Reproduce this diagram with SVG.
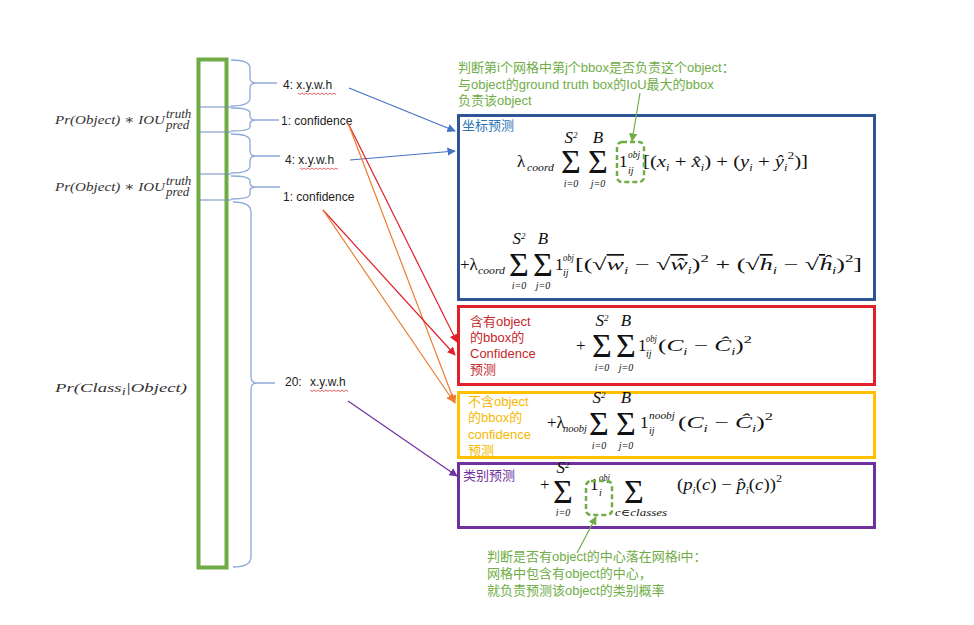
<svg xmlns="http://www.w3.org/2000/svg" width="974" height="625" viewBox="0 0 974 625">
<style>
.col{fill:none;stroke:#6fac46;stroke-width:4}
.div{stroke:#6d8cc0;stroke-width:1}
.br{fill:none;stroke:#8eaad8;stroke-width:1.3}
.lbl{font-family:"Liberation Sans","Noto Sans CJK SC",sans-serif;font-size:12px;fill:#222}
.sq{fill:none;stroke:#e03c3c;stroke-width:0.8}
.m{font-family:"Liberation Serif","DejaVu Serif",serif;font-size:17px;fill:#111}
.lm{font-family:"Liberation Serif","DejaVu Serif",serif;font-size:13px;fill:#333;font-style:italic}
.i{font-style:italic}
.sc{font-size:10px;font-style:italic}
.sig{font-size:34px}
.cn{font-family:"Liberation Sans","Noto Sans CJK SC",sans-serif;font-size:13px}
.dash{fill:none;stroke:#70ad47;stroke-width:2.5;stroke-dasharray:5 3}
.box{fill:none;stroke-width:3}
.cx{fill:none;stroke-width:1.2}
</style>
<defs>
<marker id="ab" viewBox="0 0 10 10" refX="9" refY="5" markerWidth="7" markerHeight="7" orient="auto"><path d="M0 0L10 5L0 10z" fill="#4472c4"/></marker>
<marker id="ar" viewBox="0 0 10 10" refX="9" refY="5" markerWidth="7" markerHeight="7" orient="auto"><path d="M0 0L10 5L0 10z" fill="#e0202a"/></marker>
<marker id="ao" viewBox="0 0 10 10" refX="9" refY="5" markerWidth="7" markerHeight="7" orient="auto"><path d="M0 0L10 5L0 10z" fill="#ed7d31"/></marker>
<marker id="ap" viewBox="0 0 10 10" refX="9" refY="5" markerWidth="7" markerHeight="7" orient="auto"><path d="M0 0L10 5L0 10z" fill="#7030a0"/></marker>
<marker id="ag" viewBox="0 0 10 10" refX="9" refY="5" markerWidth="7" markerHeight="7" orient="auto"><path d="M0 0L10 5L0 10z" fill="#70ad47"/></marker>
</defs>
<rect width="974" height="625" fill="#fff"/>

<g id="column">
<rect class="col" x="198.5" y="59.5" width="28" height="508"/>
<line class="div" x1="199" y1="107" x2="231" y2="107"/>
<line class="div" x1="199" y1="132" x2="231" y2="132"/>
<line class="div" x1="199" y1="174" x2="231" y2="174"/>
<line class="div" x1="199" y1="200" x2="231" y2="200"/>
</g>

<g id="braces">
<path class="br" d="M231 60 Q250 60 250 68 L250 78 Q250 83 256 83 Q250 83 250 88 L250 98 Q250 106 231 106 M256 83 H277"/>
<path class="br" d="M231 108 Q250 108 250 113 L250 116 Q250 120 256 120 Q250 120 250 124 L250 127 Q250 131 231 131 M256 120 H279"/>
<path class="br" d="M231 134 Q250 134 250 141 L250 151 Q250 156 256 156 Q250 156 250 161 L250 166 Q250 173 231 173 M256 156 H280"/>
<path class="br" d="M231 176 Q250 176 250 181 L250 183 Q250 187 256 187 Q250 187 250 191 L250 194 Q250 199 231 199 M256 187 H280"/>
<path class="br" d="M233 202 Q251 202 251 212 L251 377 Q251 383 257 383 Q251 383 251 389 L251 557 Q251 567 233 567 M257 383 H275"/>
</g>

<g id="left-labels">
<text class="lm" x="55" y="124" textLength="110" lengthAdjust="spacingAndGlyphs">Pr(Object) ∗ IOU</text>
<text class="lm" x="166" y="118" font-size="8">truth</text>
<text class="lm" x="166" y="129" font-size="8">pred</text>
<text class="lm" x="55" y="191" textLength="110" lengthAdjust="spacingAndGlyphs">Pr(Object) ∗ IOU</text>
<text class="lm" x="166" y="185" font-size="8">truth</text>
<text class="lm" x="166" y="196" font-size="8">pred</text>
<text class="lm" x="55" y="392" font-size="16" textLength="132" lengthAdjust="spacingAndGlyphs">Pr(Class<tspan font-size="10" dy="3">i</tspan><tspan dy="-3">|Object)</tspan></text>
</g>

<g id="item-labels">
<text class="lbl" x="283" y="89">4: x.y.w.h</text>
<path class="sq" d="M298 93 l2 1.5 l2 -1.5 l2 1.5 l2 -1.5 l2 1.5 l2 -1.5 l2 1.5 l2 -1.5 l2 1.5 l2 -1.5 l2 1.5 l2 -1.5 l2 1.5 l2 -1.5 l2 1.5 l2 -1.5 l2 1.5 l2 -1.5 l2 1.5"/>
<text class="lbl" x="281" y="125">1: confidence</text>
<text class="lbl" x="285" y="164">4: x.y.w.h</text>
<path class="sq" d="M300 168 l2 1.5 l2 -1.5 l2 1.5 l2 -1.5 l2 1.5 l2 -1.5 l2 1.5 l2 -1.5 l2 1.5 l2 -1.5 l2 1.5 l2 -1.5 l2 1.5 l2 -1.5 l2 1.5 l2 -1.5 l2 1.5 l2 -1.5 l2 1.5"/>
<text class="lbl" x="283" y="201">1: confidence</text>
<text class="lbl" x="285" y="386">20:<tspan x="310">x.y.w.h</tspan></text>
<path class="sq" d="M310 390 l2 1.5 l2 -1.5 l2 1.5 l2 -1.5 l2 1.5 l2 -1.5 l2 1.5 l2 -1.5 l2 1.5 l2 -1.5 l2 1.5 l2 -1.5 l2 1.5 l2 -1.5 l2 1.5 l2 -1.5 l2 1.5 l2 -1.5 l2 1.5"/>
</g>

<g id="note-top">
<text class="cn" fill="#70ad47" x="458" y="72">判断第i个网格中第j个bbox是否负责这个object：</text>
<text class="cn" fill="#70ad47" x="458" y="89">与object的ground truth box的IoU最大的bbox</text>
<text class="cn" fill="#70ad47" x="458" y="105">负责该object</text>
</g>

<g id="box-coord">
<rect class="box" x="458.5" y="115.5" width="416" height="184" stroke="#2f5597"/>
<text class="cn" fill="#2e75b6" x="462" y="130">坐标预测</text>
<text class="m" x="517" y="167" font-size="18">λ</text>
<text class="m sc" x="527" y="171" textLength="27" lengthAdjust="spacingAndGlyphs">coord</text>
<text class="m sig" x="561" y="173">Σ</text>
<text class="m i" x="571" y="143" font-size="13" text-anchor="middle">S<tspan font-size="9" dy="-5">2</tspan></text>
<text class="m sc" x="571" y="187" text-anchor="middle">i=0</text>
<text class="m sig" x="588" y="173">Σ</text>
<text class="m i" x="598" y="143" font-size="13" text-anchor="middle">B</text>
<text class="m sc" x="598" y="187" text-anchor="middle">j=0</text>
<text class="m" x="619" y="167" font-size="18">1</text>
<text class="m sc" x="628" y="158" textLength="12" lengthAdjust="spacingAndGlyphs">obj</text>
<text class="m sc" x="628" y="174">ij</text>
<text class="m" x="643" y="167" textLength="165" lengthAdjust="spacingAndGlyphs">[(<tspan class="i">x</tspan><tspan class="sc" dy="4">i</tspan><tspan dy="-4"> + </tspan><tspan class="i">x̂</tspan><tspan class="sc" dy="4">i</tspan><tspan dy="-4">) + (</tspan><tspan class="i">y</tspan><tspan class="sc" dy="4">i</tspan><tspan dy="-4"> + </tspan><tspan class="i">ŷ</tspan><tspan class="sc" dy="4">i</tspan><tspan font-size="11" dy="-12">2</tspan><tspan dy="8">)]</tspan></text>

<text class="m" x="460" y="270">+λ</text>
<text class="m sc" x="478" y="274" textLength="27" lengthAdjust="spacingAndGlyphs">coord</text>
<text class="m sig" x="509" y="276">Σ</text>
<text class="m i" x="519" y="244" font-size="13" text-anchor="middle">S<tspan font-size="9" dy="-5">2</tspan></text>
<text class="m sc" x="519" y="289" text-anchor="middle">i=0</text>
<text class="m sig" x="533" y="276">Σ</text>
<text class="m i" x="543" y="244" font-size="13" text-anchor="middle">B</text>
<text class="m sc" x="543" y="289" text-anchor="middle">j=0</text>
<text class="m" x="555" y="270" font-size="18">1</text>
<text class="m sc" x="563" y="261" textLength="11" lengthAdjust="spacingAndGlyphs">obj</text>
<text class="m sc" x="563" y="276">ij</text>
<text class="m" x="575" y="270" textLength="287" lengthAdjust="spacingAndGlyphs">[(√<tspan class="i" text-decoration="overline">w</tspan><tspan class="sc" dy="4">i</tspan><tspan dy="-4"> − √</tspan><tspan class="i" text-decoration="overline">ŵ</tspan><tspan class="sc" dy="4">i</tspan><tspan dy="-4">)</tspan><tspan font-size="11" dy="-8">2</tspan><tspan dy="8"> + (√</tspan><tspan class="i" text-decoration="overline">h</tspan><tspan class="sc" dy="4">i</tspan><tspan dy="-4"> − √</tspan><tspan class="i" text-decoration="overline">ĥ</tspan><tspan class="sc" dy="4">i</tspan><tspan dy="-4">)</tspan><tspan font-size="11" dy="-8">2</tspan><tspan dy="8">]</tspan></text>
<rect class="dash" x="617" y="142" width="27" height="40" rx="5"/>
</g>

<g id="box-obj">
<rect class="box" x="458.5" y="306.5" width="416" height="78" stroke="#e0202a"/>
<text class="cn" font-size="12" fill="#c8282b" x="470" y="326">含有object</text>
<text class="cn" font-size="12" fill="#c8282b" x="470" y="342">的bbox的</text>
<text class="cn" font-size="12" fill="#c8282b" x="470" y="358">Confidence</text>
<text class="cn" font-size="12" fill="#c8282b" x="470" y="374">预测</text>
<text class="m" x="576" y="351">+</text>
<text class="m sig" x="592" y="357">Σ</text>
<text class="m i" x="602" y="326" font-size="13" text-anchor="middle">S<tspan font-size="9" dy="-5">2</tspan></text>
<text class="m sc" x="602" y="371" text-anchor="middle">i=0</text>
<text class="m sig" x="616" y="357">Σ</text>
<text class="m i" x="626" y="326" font-size="13" text-anchor="middle">B</text>
<text class="m sc" x="626" y="371" text-anchor="middle">j=0</text>
<text class="m" x="638" y="351" font-size="18">1</text>
<text class="m sc" x="646" y="342" textLength="11" lengthAdjust="spacingAndGlyphs">obj</text>
<text class="m sc" x="646" y="357">ij</text>
<text class="m" x="658" y="351" textLength="94" lengthAdjust="spacingAndGlyphs">(<tspan class="i">C</tspan><tspan class="sc" dy="4">i</tspan><tspan dy="-4"> − </tspan><tspan class="i">Ĉ</tspan><tspan class="sc" dy="4">i</tspan><tspan dy="-4">)</tspan><tspan font-size="11" dy="-8">2</tspan></text>
</g>

<g id="box-noobj">
<rect class="box" x="458.5" y="392.5" width="416" height="65" stroke="#ffc000"/>
<text class="cn" font-size="12" fill="#f5b800" x="468" y="406">不含object</text>
<text class="cn" font-size="12" fill="#f5b800" x="468" y="422">的bbox的</text>
<text class="cn" font-size="12" fill="#f5b800" x="468" y="439">confidence</text>
<text class="cn" font-size="12" fill="#f5b800" x="468" y="455">预测</text>
<text class="m" x="547" y="428">+λ</text>
<text class="m sc" x="563" y="432" textLength="24" lengthAdjust="spacingAndGlyphs">noobj</text>
<text class="m sig" x="589" y="435">Σ</text>
<text class="m i" x="599" y="403" font-size="13" text-anchor="middle">S<tspan font-size="9" dy="-5">2</tspan></text>
<text class="m sc" x="599" y="449" text-anchor="middle">i=0</text>
<text class="m sig" x="616" y="435">Σ</text>
<text class="m i" x="626" y="403" font-size="13" text-anchor="middle">B</text>
<text class="m sc" x="626" y="449" text-anchor="middle">j=0</text>
<text class="m" x="640" y="428" font-size="18">1</text>
<text class="m sc" x="649" y="419" textLength="26" lengthAdjust="spacingAndGlyphs">noobj</text>
<text class="m sc" x="649" y="434">ij</text>
<text class="m" x="678" y="428" textLength="95" lengthAdjust="spacingAndGlyphs">(<tspan class="i">C</tspan><tspan class="sc" dy="4">i</tspan><tspan dy="-4"> − </tspan><tspan class="i">Ĉ</tspan><tspan class="sc" dy="4">i</tspan><tspan dy="-4">)</tspan><tspan font-size="11" dy="-8">2</tspan></text>
</g>

<g id="box-class">
<rect class="box" x="458.5" y="463.5" width="416" height="64" stroke="#7030a0"/>
<text class="cn" fill="#7030a0" x="463" y="480">类别预测</text>
<text class="m" x="540" y="490">+</text>
<text class="m sig" x="553" y="503">Σ</text>
<text class="m i" x="563" y="473" font-size="13" text-anchor="middle">S<tspan font-size="9" dy="-5">2</tspan></text>
<text class="m sc" x="563" y="516" text-anchor="middle">i=0</text>
<text class="m" x="590" y="490" font-size="18">1</text>
<text class="m sc" x="599" y="481" textLength="11" lengthAdjust="spacingAndGlyphs">obj</text>
<text class="m sc" x="599" y="496">i</text>
<text class="m sig" x="624" y="503">Σ</text>
<text class="m sc" x="641" y="516" text-anchor="middle" textLength="52" lengthAdjust="spacingAndGlyphs">c∈classes</text>
<text class="m" x="677" y="490" textLength="105" lengthAdjust="spacingAndGlyphs">(<tspan class="i">p</tspan><tspan class="sc" dy="4">i</tspan><tspan dy="-4">(</tspan><tspan class="i">c</tspan><tspan>) − </tspan><tspan class="i">p̂</tspan><tspan class="sc" dy="4">i</tspan><tspan dy="-4">(</tspan><tspan class="i">c</tspan><tspan>))</tspan><tspan font-size="11" dy="-8">2</tspan></text>
<rect class="dash" x="586" y="481" width="26" height="34" rx="5"/>
</g>

<g id="note-bottom">
<text class="cn" fill="#70ad47" x="487" y="561">判断是否有object的中心落在网格i中：</text>
<text class="cn" fill="#70ad47" x="487" y="578">网格中包含有object的中心，</text>
<text class="cn" fill="#70ad47" x="487" y="595">就负责预测该object的类别概率</text>
</g>

<g id="connectors">
<line class="cx" x1="349" y1="88" x2="455" y2="131" stroke="#4472c4" marker-end="url(#ab)"/>
<line class="cx" x1="350" y1="160" x2="455" y2="151" stroke="#4472c4" marker-end="url(#ab)"/>
<line class="cx" x1="348" y1="123" x2="457" y2="342" stroke="#e0202a" marker-end="url(#ar)"/>
<line class="cx" x1="348" y1="123" x2="455" y2="403" stroke="#ed7d31" marker-end="url(#ao)"/>
<line class="cx" x1="323" y1="210" x2="455" y2="355" stroke="#e0202a" marker-end="url(#ar)"/>
<line class="cx" x1="323" y1="210" x2="454" y2="402" stroke="#ed7d31" marker-end="url(#ao)"/>
<line class="cx" x1="348" y1="401" x2="457" y2="476" stroke="#7030a0" marker-end="url(#ap)"/>
<line class="cx" x1="640" y1="93" x2="632" y2="141" stroke="#70ad47" marker-end="url(#ag)"/>
<line class="cx" x1="577" y1="553" x2="596" y2="517" stroke="#70ad47" marker-end="url(#ag)"/>
</g>
</svg>
